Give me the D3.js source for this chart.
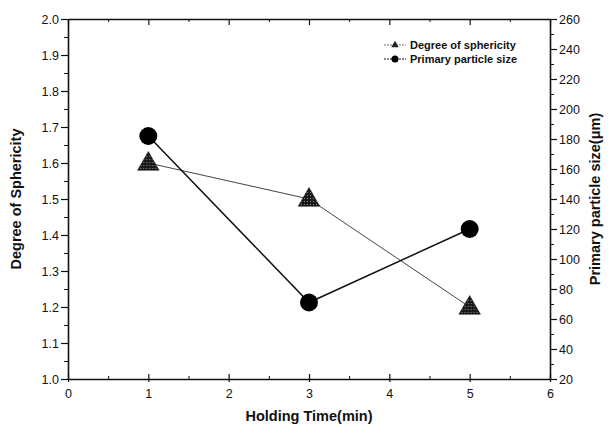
<!DOCTYPE html>
<html>
<head>
<meta charset="utf-8">
<script src="https://cdn.jsdelivr.net/npm/d3@7"></script>
<style>
  body { margin: 0; background: #fff; }
  text { font-family: "Liberation Sans", Arial, sans-serif; fill: #111; }
</style>
</head>
<body>
<div id="chart"></div>
<script>
const WIDTH = 611;
const HEIGHT = 434;
const MARGIN = { top: 19, right: 61, bottom: 55, left: 68 };

// data
const holdingTime = [1, 3, 5];
const sphericity = [1.6, 1.5, 1.2];
const particleSize = [182, 71, 120];

const xTicks = [0, 1, 2, 3, 4, 5, 6];
const leftTicks = [1.0, 1.1, 1.2, 1.3, 1.4, 1.5, 1.6, 1.7, 1.8, 1.9, 2.0];
const rightTicks = [20, 40, 60, 80, 100, 120, 140, 160, 180, 200, 220, 240, 260];

const seriesNames = ["Degree of sphericity", "Primary particle size"];

const svg = d3.select("#chart")
  .append("svg")
  .attr("width", WIDTH)
  .attr("height", HEIGHT);

// crosshatch fill for the triangles
const pat = svg.append("defs").append("pattern")
  .attr("id", "hatch")
  .attr("patternUnits", "userSpaceOnUse")
  .attr("width", 3).attr("height", 3);
pat.append("rect").attr("width", 3).attr("height", 3).attr("fill", "#1a1a1a");
pat.append("rect").attr("x", 1).attr("y", 1).attr("width", 1).attr("height", 1).attr("fill", "#8a8a8a");

const x = d3.scaleLinear().domain([0, 6]).range([MARGIN.left, WIDTH - MARGIN.right]);
const yL = d3.scaleLinear().domain([1.0, 2.0]).range([HEIGHT - MARGIN.bottom, MARGIN.top]);
const yR = d3.scaleLinear().domain([20, 260]).range([HEIGHT - MARGIN.bottom, MARGIN.top]);

const x0 = MARGIN.left, x1 = WIDTH - MARGIN.right;
const y0 = HEIGHT - MARGIN.bottom, y1 = MARGIN.top;

// minor tick helper
function minors(ticks) {
  const out = [];
  for (let i = 0; i < ticks.length - 1; i++) out.push((ticks[i] + ticks[i + 1]) / 2);
  return out;
}

function styleAxis(g) {
  g.select(".domain").attr("stroke", "#111").attr("stroke-width", 1.6);
  g.selectAll(".tick line").attr("stroke", "#111").attr("stroke-width", 1.2);
  g.selectAll(".tick text").attr("font-size", 12.5).attr("fill", "#222");
}

// bottom axis: ticks pointing up
const gb = svg.append("g").attr("transform", `translate(0,${y0})`)
  .call(d3.axisBottom(x).tickValues(xTicks).tickFormat(d3.format("d")).tickSizeInner(-5).tickSizeOuter(0).tickPadding(10));
styleAxis(gb);
gb.selectAll(".tick line").attr("y2", -5).attr("y1", 3);
svg.append("g").attr("transform", `translate(0,${y0})`)
  .call(d3.axisBottom(x).tickValues(minors(xTicks)).tickFormat("").tickSizeInner(-3).tickSizeOuter(0))
  .call(g => { g.select(".domain").remove(); g.selectAll("line").attr("stroke", "#111"); });

// top axis: ticks pointing down
const gt = svg.append("g").attr("transform", `translate(0,${y1})`)
  .call(d3.axisTop(x).tickValues(xTicks).tickFormat("").tickSizeInner(-6).tickSizeOuter(0));
styleAxis(gt);
svg.append("g").attr("transform", `translate(0,${y1})`)
  .call(d3.axisTop(x).tickValues(minors(xTicks)).tickFormat("").tickSizeInner(-3).tickSizeOuter(0))
  .call(g => { g.select(".domain").remove(); g.selectAll("line").attr("stroke", "#111"); });

// left axis: ticks outward
const gl = svg.append("g").attr("transform", `translate(${x0},0)`)
  .call(d3.axisLeft(yL).tickValues(leftTicks).tickFormat(d3.format(".1f")).tickSizeInner(7).tickSizeOuter(0).tickPadding(2));
styleAxis(gl);
svg.append("g").attr("transform", `translate(${x0},0)`)
  .call(d3.axisLeft(yL).tickValues(minors(leftTicks)).tickFormat("").tickSizeInner(4).tickSizeOuter(0))
  .call(g => { g.select(".domain").remove(); g.selectAll("line").attr("stroke", "#111"); });

// right axis: ticks outward
const gr = svg.append("g").attr("transform", `translate(${x1},0)`)
  .call(d3.axisRight(yR).tickValues(rightTicks).tickSizeInner(7).tickSizeOuter(0).tickPadding(2));
styleAxis(gr);
svg.append("g").attr("transform", `translate(${x1},0)`)
  .call(d3.axisRight(yR).tickValues(minors(rightTicks)).tickFormat("").tickSizeInner(4).tickSizeOuter(0))
  .call(g => { g.select(".domain").remove(); g.selectAll("line").attr("stroke", "#111"); });

// axis titles
svg.append("text")
  .attr("x", (x0 + x1) / 2).attr("y", 421)
  .attr("text-anchor", "middle")
  .attr("font-size", 14.5).attr("font-weight", "bold")
  .text("Holding Time(min)");

svg.append("text")
  .attr("transform", `translate(21,${(y0 + y1) / 2}) rotate(-90)`)
  .attr("text-anchor", "middle")
  .attr("font-size", 14.5).attr("font-weight", "bold")
  .text("Degree of Sphericity");

svg.append("text")
  .attr("transform", `translate(600,${(y0 + y1) / 2}) rotate(-90)`)
  .attr("text-anchor", "middle")
  .attr("font-size", 14.5).attr("font-weight", "bold")
  .text("Primary particle size(\u03bcm)");

// series
const triLine = d3.line().x((d, i) => x(holdingTime[i])).y(d => yL(d));
const cirLine = d3.line().x((d, i) => x(holdingTime[i])).y(d => yR(d));

svg.append("path").datum(sphericity)
  .attr("d", triLine).attr("fill", "none")
  .attr("stroke", "#444").attr("stroke-width", 1);

svg.append("path").datum(particleSize)
  .attr("d", cirLine).attr("fill", "none")
  .attr("stroke", "#111").attr("stroke-width", 1.5);

const tri = d3.symbol().type(d3.symbolTriangle).size(200);

svg.selectAll(".tri").data(sphericity).enter()
  .append("path")
  .attr("class", "tri")
  .attr("d", tri)
  .attr("transform", (d, i) => `translate(${x(holdingTime[i])},${yL(d) + 1})`)
  .attr("fill", "url(#hatch)")
  .attr("stroke", "#1a1a1a").attr("stroke-width", 0.6);

svg.selectAll(".cir").data(particleSize).enter()
  .append("circle")
  .attr("class", "cir")
  .attr("cx", (d, i) => x(holdingTime[i]))
  .attr("cy", d => yR(d))
  .attr("r", 9)
  .attr("fill", "#000");

// legend
const legend = svg.append("g").attr("transform", "translate(384,45)");
seriesNames.forEach((name, i) => {
  const g = legend.append("g").attr("transform", `translate(0,${i * 14})`);
  g.append("line").attr("x1", 0).attr("x2", 22).attr("y1", 0).attr("y2", 0)
    .attr("stroke", i === 0 ? "#444" : "#111")
    .attr("stroke-width", i === 0 ? 0.8 : 1.2)
    .attr("stroke-dasharray", "2,1");
  if (i === 0) {
    g.append("path").attr("d", d3.symbol().type(d3.symbolTriangle).size(24))
      .attr("transform", "translate(11,0)").attr("fill", "#222");
  } else {
    g.append("circle").attr("cx", 11).attr("cy", 0).attr("r", 3.5).attr("fill", "#000");
  }
  g.append("text").attr("x", 26).attr("y", 4)
    .attr("font-size", 11).attr("font-weight", "bold")
    .text(name);
});
</script>
</body>
</html>
